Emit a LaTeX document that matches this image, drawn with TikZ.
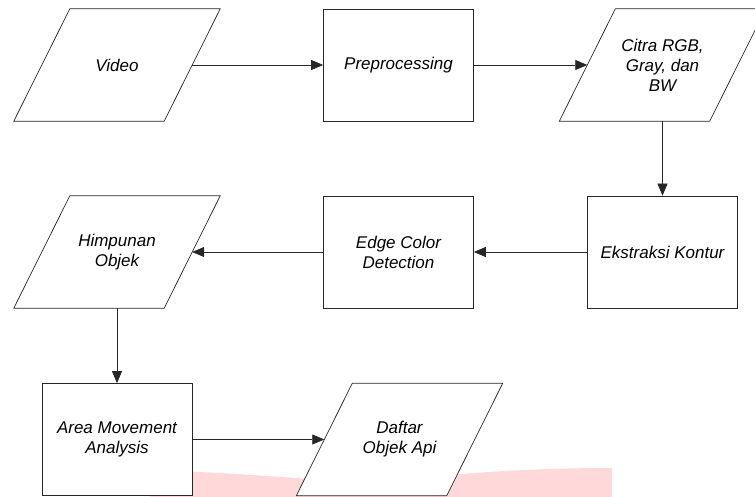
\documentclass[tikz,border=0pt]{standalone}
\usepackage{fontspec}
\setmainfont{Liberation Sans}
\usetikzlibrary{arrows.meta}

\pgfdeclarelayer{watermark}
\pgfdeclarelayer{shapes}
\pgfsetlayers{watermark,shapes,main}

\tikzset{
    boxfont/.style={font=\itshape\fontsize{17}{20}\selectfont},
    boxline/.style={draw=black!85, fill=white, line width=0.7pt},
    procbox/.style={boxline, rectangle,
        minimum width=150pt, minimum height=112pt, inner sep=2pt, align=center, boxfont},
    % parallelogram drawn behind the text, slant 56pt over the height
    databox/.style={rectangle, minimum width=150pt, minimum height=112pt,
        inner sep=2pt, align=center, boxfont,
        append after command={\pgfextra{
            \begin{pgfonlayer}{shapes}
                \draw[boxline]
                    ([xshift=-28pt]\tikzlastnode.south west) -- ([xshift=-28pt]\tikzlastnode.south east)
                    -- ([xshift=28pt]\tikzlastnode.north east) -- ([xshift=28pt]\tikzlastnode.north west)
                    -- cycle;
            \end{pgfonlayer}}}},
    flow/.style={draw=black!85, line width=0.7pt, -{Triangle[length=12pt, width=10pt]}}
}

\begin{document}
\begin{tikzpicture}[x=1pt, y=-1pt]
    \useasboundingbox (0,0) rectangle (755,497);

    % watermark behind the last row
    \begin{pgfonlayer}{watermark}
        \fill[red!15!white] (150,470) .. controls (330,476) and (360,490) .. (430,477)
            .. controls (500,470) and (560,468) .. (612,468) -- (612,497) -- (150,497) -- cycle;
    \end{pgfonlayer}

    % grid of box centres
    \coordinate (C11) at (117,65);
    \coordinate (C12) at (398.5,65);
    \coordinate (C13) at (662.5,65);
    \coordinate (C21) at (117,252);
    \coordinate (C22) at (398.5,252);
    \coordinate (C23) at (662.5,252);
    \coordinate (C31) at (117,439.5);
    \coordinate (C32) at (399.5,439.5);

    % first row
    \node[databox] (video) at (C11) {Video};
    \node[procbox] (prep) at (C12) {Preprocessing};
    \node[databox] (citra) at (C13) {Citra RGB,\\ Gray, dan\\ BW};

    % second row
    \node[procbox] (kontur) at (C23) {Ekstraksi Kontur};
    \node[procbox] (edge) at (C22) {Edge Color\\ Detection};
    \node[databox] (himpunan) at (C21) {Himpunan\\ Objek};

    % third row
    \node[procbox] (area) at (C31) {Area Movement\\ Analysis};
    \node[databox] (daftar) at (C32) {Daftar\\ Objek Api};

    % connectors
    \draw[flow] (video.east) -- (prep.west);
    \draw[flow] (prep.east) -- (citra.west);
    \draw[flow] (citra.south) -- (kontur.north);
    \draw[flow] (kontur.west) -- (edge.east);
    \draw[flow] (edge.west) -- (himpunan.east);
    \draw[flow] (himpunan.south) -- (area.north);
    \draw[flow] (area.east) -- (daftar.west);
\end{tikzpicture}
\end{document}
